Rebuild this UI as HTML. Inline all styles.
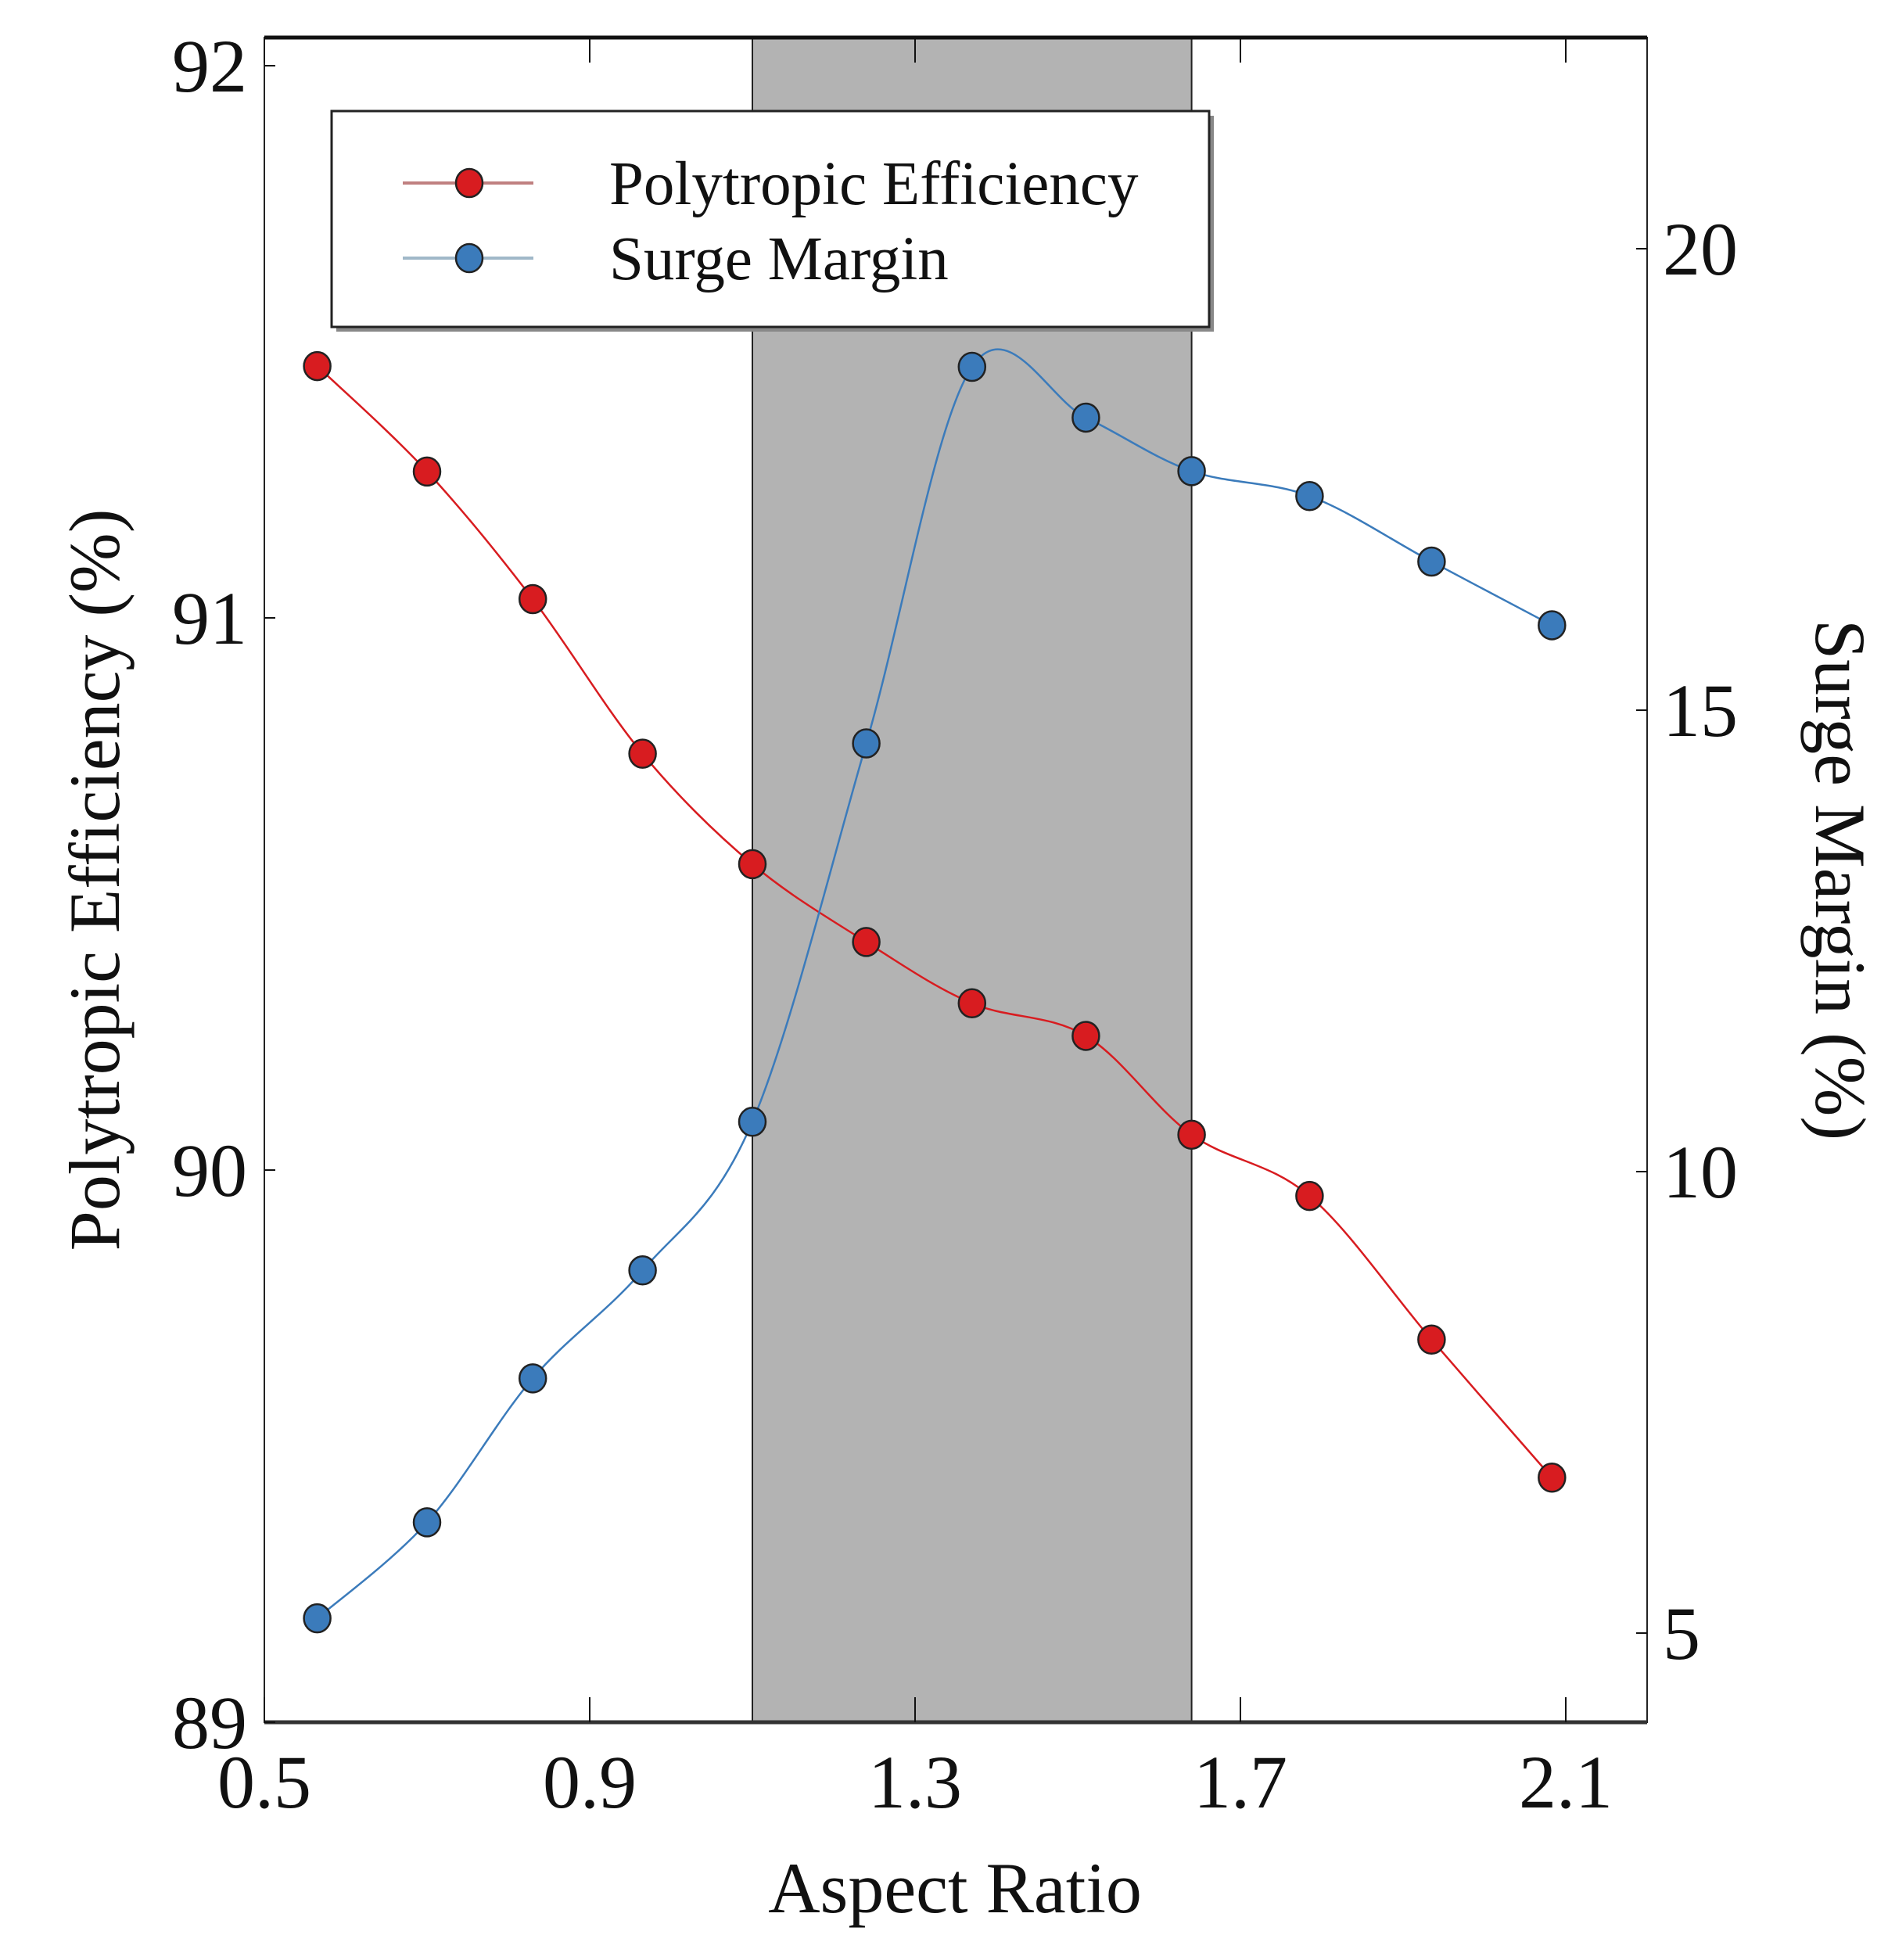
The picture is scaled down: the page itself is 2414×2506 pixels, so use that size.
<!DOCTYPE html>
<html><head><meta charset="utf-8"><style>
html,body{margin:0;padding:0;background:#fff;}
svg{display:block;}
text{font-family:"Liberation Serif",serif;fill:#111;}
</style></head><body>
<svg id="chart" width="2414" height="2506" viewBox="0 0 2414 2506" xmlns="http://www.w3.org/2000/svg">
<g id="shade"></g>
<g id="grid"></g>
<g id="series"></g>
<g id="legend"></g>
</svg>
<script>
const aspectRatio=[0.565,0.70,0.83,0.965,1.10,1.24,1.37,1.51,1.64,1.785,1.935,2.083];
const efficiency=[91.456,91.265,91.034,90.754,90.554,90.413,90.302,90.243,90.064,89.953,89.693,89.443];
const surgeMargin=[5.16,6.20,7.76,8.93,10.54,14.64,18.72,18.17,17.59,17.32,16.61,15.92];
const xTicks=[0.5,0.9,1.3,1.7,2.1];
const xTickLabels=["0.5","0.9","1.3","1.7","2.1"];
const yLeftTicks=[89,90,91,92];
const yLeftTickLabels=["89","90","91","92"];
const yRightTicks=[5,10,15,20];
const yRightTickLabels=["5","10","15","20"];
const shadeRange=[1.1,1.64];

const L=338,R=2106,T=48,B=2202;
const sx=v=>L+(v-0.5)*(R-L)/(2.2-0.5);
const syL=v=>2202-(v-89)*706;
const syR=v=>1498-(v-10)*118;
const NS="http://www.w3.org/2000/svg";
function mk(parent,tag,attrs){const e=document.createElementNS(NS,tag);for(const k in attrs)e.setAttribute(k,attrs[k]);document.getElementById(parent).appendChild(e);return e;}

let e=mk('shade','rect',{x:sx(shadeRange[0]),y:T,width:sx(shadeRange[1])-sx(shadeRange[0]),height:B-T,fill:'#b3b3b3',stroke:'#222','stroke-width':2});



e=mk('grid','rect',{x:L,y:T,width:R-L,height:B-T,fill:'none',stroke:'#222','stroke-width':2});


mk('grid','line',{x1:L,x2:R,y1:T,y2:T,stroke:'#111','stroke-width':5});
mk('grid','line',{x1:L,x2:R,y1:B,y2:B,stroke:'#333','stroke-width':5});

xTicks.forEach((v,i)=>{
 mk('grid','line',{x1:sx(v),x2:sx(v),y1:B,y2:B-32,stroke:'#111','stroke-width':2});
 mk('grid','line',{x1:sx(v),x2:sx(v),y1:T,y2:T+32,stroke:'#111','stroke-width':2});
 const t=mk('grid','text',{x:sx(v),y:2311,'font-size':96,'text-anchor':'middle'});
 t.textContent=xTickLabels[i];
 
 
});
yLeftTicks.forEach((v,i)=>{
 mk('grid','line',{x1:L,x2:L+14,y1:syL(v),y2:syL(v),stroke:'#111','stroke-width':2});
 const t=mk('grid','text',{x:316,y:syL(v)+33,'font-size':96,'text-anchor':'end'});
 t.textContent=yLeftTickLabels[i];
 
 
});
yRightTicks.forEach((v,i)=>{
 mk('grid','line',{x1:R,x2:R-14,y1:syR(v),y2:syR(v),stroke:'#111','stroke-width':2});
 const t=mk('grid','text',{x:2126,y:syR(v)+33,'font-size':96,'text-anchor':'start'});
 t.textContent=yRightTickLabels[i];
 
 
});
let t=mk('grid','text',{x:1221,y:2445,'font-size':92,'text-anchor':'middle'});
t.textContent='Aspect Ratio';


t=mk('grid','text',{x:0,y:0,'font-size':92,'text-anchor':'middle',transform:'translate(152,1125) rotate(-90)'});
t.textContent='Polytropic Efficiency (%)';


t=mk('grid','text',{x:0,y:0,'font-size':92,'text-anchor':'middle',transform:'translate(2322,1125) rotate(90)'});
t.textContent='Surge Margin (%)';



function spline(pts){
 let d=`M${pts[0][0]},${pts[0][1]}`;
 for(let i=0;i<pts.length-1;i++){
  const p0=pts[Math.max(0,i-1)],p1=pts[i],p2=pts[i+1],p3=pts[Math.min(pts.length-1,i+2)];
  const c1=[p1[0]+(p2[0]-p0[0])/6,p1[1]+(p2[1]-p0[1])/6];
  const c2=[p2[0]-(p3[0]-p1[0])/6,p2[1]-(p3[1]-p1[1])/6];
  d+=` C${c1[0]},${c1[1]} ${c2[0]},${c2[1]} ${p2[0]},${p2[1]}`;
 }
 return d;
}
function drawSeries(vals,sy,col,name){
 const pts=aspectRatio.map((x,i)=>[sx(x),sy(vals[i])]);
 const p=mk('series','path',{d:spline(pts),fill:'none',stroke:col,'stroke-width':2.5});
 
 
 pts.forEach(q=>{
  const c=mk('series','ellipse',{cx:q[0],cy:q[1],rx:17,ry:18,fill:col,stroke:'#222','stroke-width':2.5});
  
  
 });
}
drawSeries(efficiency,syL,'#d81c20','efficiency');
drawSeries(surgeMargin,syR,'#3b7bbb','surge-margin');

e=mk('legend','rect',{x:430,y:148,width:1122,height:276,fill:'#888'});
e=mk('legend','rect',{x:424,y:142,width:1122,height:276,fill:'#fff',stroke:'#222','stroke-width':3});


[['Polytropic Efficiency','#d81c20','#c08080',234],['Surge Margin','#3b7bbb','#a0b8c8',330]].forEach(a=>{
 mk('legend','line',{x1:515,x2:682,y1:a[3],y2:a[3],stroke:a[2],'stroke-width':4});
 const m=mk('legend','ellipse',{cx:600,cy:a[3],rx:17,ry:18,fill:a[1],stroke:'#222','stroke-width':2.5});
 
 
 const tx=mk('legend','text',{x:779,y:a[3]+27,'font-size':79});
 tx.textContent=a[0];
 
 
});
</script>
</body></html>
